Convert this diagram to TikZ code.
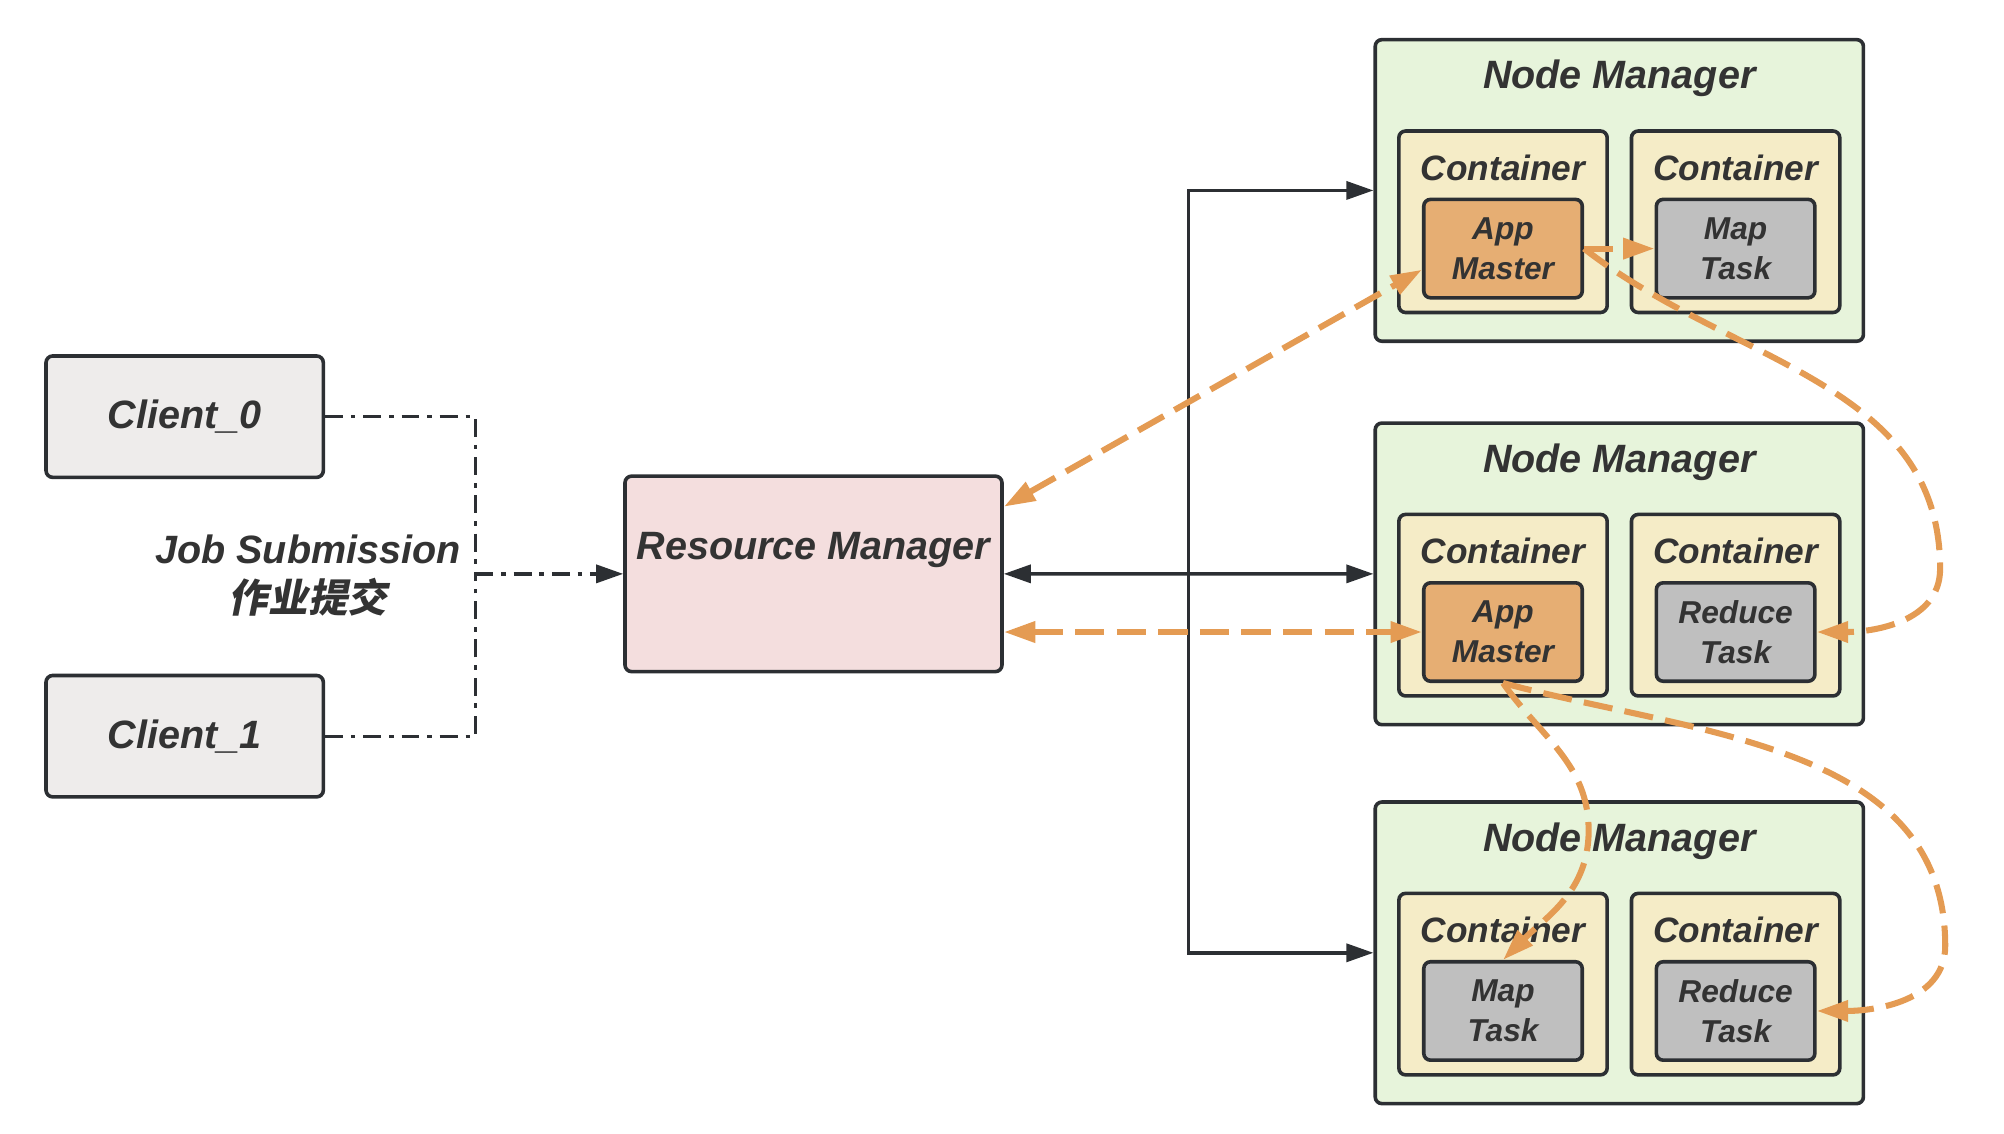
\documentclass[tikz,border=0pt]{standalone}
\usepackage{fontspec}
\setmainfont{Liberation Sans}
\newfontfamily\cjk[FakeSlant=0.2]{Noto Sans CJK SC}
\usepackage{xcolor}
\usepackage{tikz}
\usetikzlibrary{shapes,arrows.meta,positioning}

\definecolor{clientfill}{HTML}{EEECEB}
\definecolor{rmfill}{HTML}{F4DEDE}
\definecolor{nmfill}{HTML}{E7F4DB}
\definecolor{contfill}{HTML}{F5ECC7}
\definecolor{amfill}{HTML}{E6AE73}
\definecolor{taskfill}{HTML}{BFBFBF}
\definecolor{linegray}{HTML}{2C2F33}
\definecolor{textgray}{HTML}{333333}
\definecolor{flow}{HTML}{E49B53}

\newcommand{\bigfont}{\fontsize{17.6}{21.6}\selectfont\bfseries\itshape}
\newcommand{\midfont}{\fontsize{15.7}{18}\selectfont\bfseries\itshape}
\newcommand{\smallfont}{\fontsize{14.1}{17.6}\selectfont\bfseries\itshape}

\begin{document}
\begin{tikzpicture}[auto,
  box/.style={rectangle, rounded corners=3pt, draw=linegray, line width=1.6pt, text=textgray},
  clientbox/.style={box, fill=clientfill, minimum width=4.34cm, minimum height=1.9cm, font=\bigfont},
  rmbox/.style={box, fill=rmfill, minimum width=5.9cm, minimum height=3.06cm},
  nmbox/.style={box, fill=nmfill, minimum width=7.64cm, minimum height=4.72cm},
  contbox/.style={box, fill=contfill, minimum width=3.26cm, minimum height=2.84cm},
  ambox/.style={box, fill=amfill, minimum width=2.48cm, minimum height=1.54cm, align=center, font=\smallfont, inner sep=0pt},
  taskbox/.style={ambox, fill=taskfill},
  title/.style={inner sep=0pt, text=textgray, font=\bigfont},
  ctitle/.style={inner sep=0pt, text=textgray, font=\midfont},
  arrow/.style={line width=1.5pt, draw=linegray, ->, >={Triangle[length=12pt,width=8pt]}},
  jobline/.style={arrow, -, dash pattern=on 8pt off 3.5pt on 2pt off 3.5pt},
  flowline/.style={line width=2.7pt, draw=flow, dash pattern=on 13pt off 5.5pt, >={Triangle[length=14pt,width=9pt]}}]

  \useasboundingbox (0,0) rectangle (31.36,-17.74);

  % clients and resource manager
  \node (client0) [clientbox] at (2.89,-6.52) {Client\_0};
  \node (client1) [clientbox, below of=client0, node distance=5cm] {Client\_1};
  \node (job) [title, align=center] at (4.82,-9.01) {Job Submission\\{\cjk 作业提交}};
  \node (rm) [rmbox] at (12.73,-8.98) {};
  \node (rmtitle) [title, above of=rm, node distance=0.38cm] {Resource Manager};

  % node managers
  \node (nm1) [nmbox] at (25.34,-2.98) {};
  \node (nm2) [nmbox, below of=nm1, node distance=6cm] {};
  \node (nm3) [nmbox, below of=nm2, node distance=5.93cm] {};
  \node (nm1title) [title, above of=nm1, node distance=1.75cm] {Node Manager};
  \node (nm2title) [title, above of=nm2, node distance=1.75cm] {Node Manager};
  \node (nm3title) [title, above of=nm3, node distance=1.75cm] {Node Manager};

  % containers
  \node (cont1l) [contbox] at ([xshift=-1.82cm, yshift=-0.49cm]nm1.center) {};
  \node (cont1r) [contbox, right of=cont1l, node distance=3.64cm] {};
  \node (cont2l) [contbox] at ([xshift=-1.82cm, yshift=-0.49cm]nm2.center) {};
  \node (cont2r) [contbox, right of=cont2l, node distance=3.64cm] {};
  \node (cont3l) [contbox] at ([xshift=-1.82cm, yshift=-0.49cm]nm3.center) {};
  \node (cont3r) [contbox, right of=cont3l, node distance=3.64cm] {};
  \node (cont1ltitle) [ctitle, above of=cont1l, node distance=0.85cm] {Container};
  \node (cont1rtitle) [ctitle, above of=cont1r, node distance=0.85cm] {Container};
  \node (cont2ltitle) [ctitle, above of=cont2l, node distance=0.85cm] {Container};
  \node (cont2rtitle) [ctitle, above of=cont2r, node distance=0.85cm] {Container};
  \node (cont3ltitle) [ctitle, above of=cont3l, node distance=0.85cm] {Container};
  \node (cont3rtitle) [ctitle, above of=cont3r, node distance=0.85cm] {Container};

  % tasks
  \node (am1) [ambox, below of=cont1l, node distance=0.42cm] {App\\Master};
  \node (mt1) [taskbox, below of=cont1r, node distance=0.42cm] {Map\\Task};
  \node (am2) [ambox, below of=cont2l, node distance=0.42cm] {App\\Master};
  \node (rt2) [taskbox, below of=cont2r, node distance=0.42cm] {Reduce\\Task};
  \node (mt3) [taskbox, below of=cont3l, node distance=0.42cm] {Map\\Task};
  \node (rt3) [taskbox, below of=cont3r, node distance=0.42cm] {Reduce\\Task};

  % job submission
  \coordinate (sub) at (7.44,-8.98);
  \draw [jobline] (client0) -| (sub);
  \draw [jobline] (client1) -| (sub);
  \draw [jobline, ->] (sub) -- (rm);

  % resource manager to node managers
  \coordinate (split) at (18.6,-8.98);
  \draw [arrow, <->] (rm) -- (nm2);
  \draw [arrow] (split) |- (nm1);
  \draw [arrow] (split) |- (nm3);

  % application master traffic
  \draw [flowline, <->] ([yshift=1.05cm]rm.east) -- ([yshift=-0.33cm]am1.west);
  \draw [flowline, <->] (rm.east |- am2.west) -- (am2.west);
  \draw [flowline, ->] (am1) -- (mt1);
  \draw [flowline, ->] (am1.east) to[out=-38, in=90] (30.36,-8.9) to[out=-90, in=0] (rt2.east);
  \draw [flowline, ->] (am2.south) to[out=-55, in=90] (24.86,-13.0) to[out=-90, in=45] (mt3.north);
  \draw [flowline, ->] (am2.south) to[out=-15, in=90] (30.44,-14.8) to[out=-90, in=0] (rt3.east);
\end{tikzpicture}
\end{document}
